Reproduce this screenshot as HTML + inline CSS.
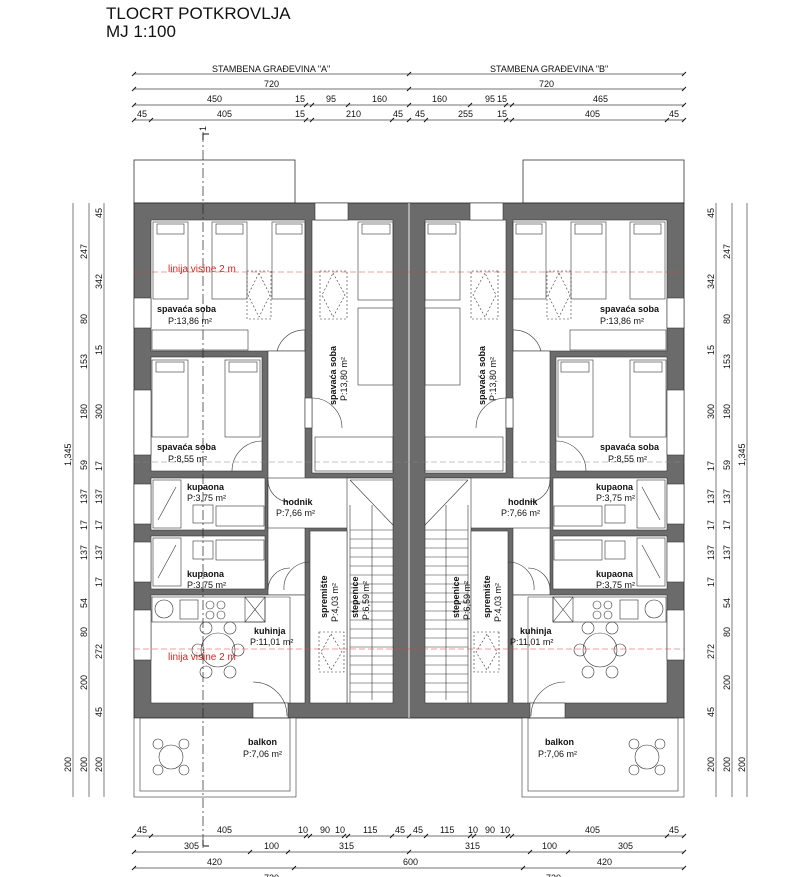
<!DOCTYPE html>
<html><head><meta charset="utf-8"><style>
html,body{margin:0;padding:0;background:#fff}
svg{display:block}
text{font-family:"Liberation Sans",sans-serif;fill:#111}
.d{font-size:9px}
.r{font-size:9px;font-weight:bold}
.a{font-size:9px}
.red{fill:#d22;font-size:10px}
</style></head><body>
<svg width="800" height="877" viewBox="0 0 800 877" xmlns="http://www.w3.org/2000/svg">
<defs>
<g id="unit">
  <rect x="134" y="160" width="161" height="43" fill="#fff" stroke="#333" stroke-width="0.8"/>
  <rect x="134" y="203" width="275" height="515" fill="#6b6b6b" stroke="#222" stroke-width="0.8"/>
  <g fill="#fff" stroke="#333" stroke-width="0.6">
    <rect x="151" y="220" width="154" height="131"/>
    <rect x="312" y="220" width="81" height="253"/>
    <rect x="151" y="357" width="111" height="114"/>
    <rect x="268" y="351" width="37" height="244"/>
    <rect x="268" y="478" width="125" height="50"/>
    <rect x="347" y="478" width="46" height="225"/>
    <rect x="310" y="531" width="37" height="172"/>
    <rect x="151" y="478" width="114" height="52"/>
    <rect x="151" y="536" width="114" height="53"/>
    <rect x="151" y="595" width="154" height="108"/>
    <rect x="253" y="703" width="35" height="15"/>
    <rect x="305" y="398" width="7" height="30"/>
    <rect x="315" y="203" width="33" height="17"/>
  </g>
  <g fill="none" stroke="#333" stroke-width="0.6">
    <rect x="134" y="298" width="17" height="30" fill="#fff"/>
    <rect x="134" y="390" width="17" height="65" fill="#fff"/>
    <rect x="134" y="484" width="17" height="40" fill="#fff"/>
    <rect x="134" y="542" width="17" height="40" fill="#fff"/>
    <rect x="134" y="610" width="17" height="50" fill="#fff"/>
    <rect x="153" y="222" width="35" height="77"/><rect x="157" y="224" width="27" height="10"/>
    <rect x="212" y="222" width="35" height="77"/><rect x="216" y="224" width="27" height="10"/>
    <rect x="272" y="222" width="33" height="77"/><rect x="276" y="224" width="26" height="10"/>
    <rect x="152" y="330" width="96" height="20"/>
    <rect x="358" y="222" width="35" height="78"/><rect x="362" y="224" width="28" height="10"/>
    <rect x="358" y="308" width="35" height="77"/>
    <rect x="315" y="437" width="78" height="34"/>
    <rect x="152" y="360" width="36" height="77"/><rect x="156" y="362" width="28" height="10"/>
    <rect x="225" y="360" width="35" height="77"/><rect x="229" y="362" width="28" height="10"/>
    <rect x="247" y="271" width="24" height="48" stroke-dasharray="2,2"/>
    <path d="M259 273 L270 295 L259 317 L248 295Z" stroke-dasharray="2,2"/>
    <rect x="320" y="271" width="27" height="48" stroke-dasharray="2,2"/>
    <path d="M333 273 L345 295 L333 317 L322 295Z" stroke-dasharray="2,2"/>
    <rect x="319" y="632" width="25" height="40" stroke-dasharray="2,2"/>
    <path d="M331 634 L342 652 L331 670 L321 652Z" stroke-dasharray="2,2"/>
    <rect x="153" y="480" width="28" height="48"/><line x1="158" y1="520" x2="176" y2="487"/>
    <rect x="153" y="538" width="28" height="48"/><line x1="158" y1="578" x2="176" y2="545"/>
    <rect x="216" y="506" width="48" height="20"/><rect x="216" y="540" width="48" height="20"/>
    <rect x="193" y="505" width="20" height="18"/><rect x="193" y="541" width="20" height="18"/>
    <rect x="152" y="597" width="113" height="25"/>
    <circle cx="164" cy="609" r="9"/><rect x="180" y="600" width="18" height="19"/>
    <circle cx="210" cy="605" r="4"/><circle cx="221" cy="605" r="4"/><circle cx="210" cy="615" r="4"/><circle cx="221" cy="615" r="4"/>
    <rect x="245" y="597" width="20" height="25"/><path d="M245 597 L265 622 M265 597 L245 622"/>
    <line x1="265" y1="597" x2="290" y2="597"/><line x1="290" y1="597" x2="290" y2="703"/>
    <circle cx="218" cy="650" r="17"/>
    <circle cx="206" cy="628" r="6"/><circle cx="230" cy="628" r="6"/><circle cx="198" cy="650" r="6"/><circle cx="238" cy="650" r="6"/><circle cx="206" cy="672" r="6"/><circle cx="230" cy="672" r="6"/>
    <path d="M350 480 L393 480 M350 480 L393 525"/>
    <path d="M350 505 L350 703 M372 505 L372 700"/>
    <path d="M350 530H393M350 539H393M350 548H393M350 557H393M350 566H393M350 575H393M350 584H393M350 593H393M350 602H393M350 611H393M350 620H393M350 629H393M350 638H393M350 647H393M350 656H393M350 665H393M350 674H393M350 683H393M350 692H393"/>
    <path d="M305 330 A28 28 0 0 0 277 351"/><line x1="305" y1="330" x2="305" y2="351"/>
    <path d="M312 398 A30 30 0 0 1 342 428"/>
    <path d="M232 471 A30 30 0 0 1 262 441"/>
    <path d="M268 480 A22 22 0 0 0 290 502"/>
    <path d="M268 590 A22 22 0 0 1 290 568"/>
    <path d="M310 562 A26 26 0 0 0 284 590"/>
    <path d="M253 682 A34 34 0 0 1 287 716"/>
    <rect x="134" y="718" width="162" height="79" fill="#fff"/>
    <rect x="140" y="718" width="150" height="73"/>
    <circle cx="171" cy="757" r="12"/>
    <circle cx="158" cy="744" r="5"/><circle cx="184" cy="744" r="5"/><circle cx="158" cy="770" r="5"/><circle cx="184" cy="770" r="5"/>
  </g>
</g>
</defs>

<text x="106" y="19" style="font-size:17px">TLOCRT POTKROVLJA</text>
<text x="106" y="37" style="font-size:17px">MJ 1:100</text>

<use href="#unit"/>
<use href="#unit" transform="translate(818,0) scale(-1,1)"/>
<line x1="409" y1="203" x2="409" y2="718" stroke="#eee" stroke-width="1"/>
<line x1="203" y1="132" x2="203" y2="848" stroke="#222" stroke-width="0.7" stroke-dasharray="10,3,2,3"/>

<line x1="134" y1="272" x2="684" y2="272" stroke="#d44" stroke-width="0.6" stroke-dasharray="6,3"/>
<line x1="134" y1="649" x2="684" y2="649" stroke="#d44" stroke-width="0.6" stroke-dasharray="6,3"/>
<line x1="134" y1="462" x2="684" y2="462" stroke="#888" stroke-width="0.6" stroke-dasharray="6,3"/>
<text class="red" x="168" y="272">linija visine 2 m</text>
<text class="red" x="168" y="660">linija visine 2 m</text>

<text class="r" x="157" y="312">spavaća  soba</text><text class="a" x="168" y="324">P:13,86 m²</text>
<text class="r" x="157" y="450">spavaća  soba</text><text class="a" x="168" y="462">P:8,55 m²</text>
<text class="r" x="187" y="490">kupaona</text><text class="a" x="187" y="501">P:3,75 m²</text>
<text class="r" x="187" y="577">kupaona</text><text class="a" x="187" y="588">P:3,75 m²</text>
<text class="r" x="283" y="505">hodnik</text><text class="a" x="276" y="516">P:7,66 m²</text>
<text class="r" x="254" y="634">kuhinja</text><text class="a" x="250" y="645">P:11,01 m²</text>
<text class="r" x="248" y="745">balkon</text><text class="a" x="243" y="757">P:7,06 m²</text>
<g transform="translate(336,405) rotate(-90)"><text class="r" x="0" y="0">spavaća  soba</text><text class="a" x="4" y="11">P:13,80 m²</text></g>
<g transform="translate(327,618) rotate(-90)"><text class="r" x="0" y="0">spremište</text><text class="a" x="-4" y="11">P:4,03 m²</text></g>
<g transform="translate(358,618) rotate(-90)"><text class="r" x="0" y="0">stepenice</text><text class="a" x="-2" y="11">P:6,59 m²</text></g>
<text class="r" x="600" y="312">spavaća  soba</text><text class="a" x="600" y="324">P:13,86 m²</text>
<text class="r" x="600" y="450">spavaća  soba</text><text class="a" x="608" y="462">P:8,55 m²</text>
<text class="r" x="596" y="490">kupaona</text><text class="a" x="596" y="501">P:3,75 m²</text>
<text class="r" x="596" y="577">kupaona</text><text class="a" x="596" y="588">P:3,75 m²</text>
<text class="r" x="508" y="505">hodnik</text><text class="a" x="501" y="516">P:7,66 m²</text>
<text class="r" x="520" y="634">kuhinja</text><text class="a" x="510" y="645">P:11,01 m²</text>
<text class="r" x="545" y="745">balkon</text><text class="a" x="538" y="757">P:7,06 m²</text>
<g transform="translate(485,405) rotate(-90)"><text class="r" x="0" y="0">spavaća  soba</text><text class="a" x="4" y="11">P:13,80 m²</text></g>
<g transform="translate(490,618) rotate(-90)"><text class="r" x="0" y="0">spremište</text><text class="a" x="-4" y="11">P:4,03 m²</text></g>
<g transform="translate(459,618) rotate(-90)"><text class="r" x="0" y="0">stepenice</text><text class="a" x="-2" y="11">P:6,59 m²</text></g>

<g stroke="#444" stroke-width="0.7">
  <line x1="134" y1="74" x2="684" y2="74"/>
  <line x1="134" y1="89" x2="684" y2="89"/>
  <line x1="134" y1="105" x2="684" y2="105"/>
  <line x1="134" y1="120" x2="684" y2="120"/>
  <line x1="134" y1="836" x2="684" y2="836"/>
  <line x1="134" y1="852" x2="684" y2="852"/>
  <line x1="134" y1="868" x2="684" y2="868"/>
  <line x1="73" y1="203" x2="73" y2="797"/><line x1="89" y1="203" x2="89" y2="797"/><line x1="104" y1="203" x2="104" y2="797"/>
  <line x1="716" y1="203" x2="716" y2="797"/><line x1="732" y1="203" x2="732" y2="797"/><line x1="747" y1="203" x2="747" y2="797"/>
</g>
<g stroke="#111" stroke-width="1">
  <path d="M132 76l4-4M407 76l4-4M682 76l4-4"/>
  <path d="M132 91l4-4M407 91l4-4M682 91l4-4"/>
  <path d="M132 107l4-4M304 107l4-4M310 107l4-4M346 107l4-4M407 107l4-4M468 107l4-4M504 107l4-4M510 107l4-4M682 107l4-4"/>
  <path d="M132 122l4-4M149 122l4-4M304 122l4-4M310 122l4-4M390 122l4-4M407 122l4-4M424 122l4-4M504 122l4-4M510 122l4-4M665 122l4-4M682 122l4-4"/>
  <path d="M132 838l4-4M149 838l4-4M304 838l4-4M308 838l4-4M342 838l4-4M346 838l4-4M390 838l4-4M407 838l4-4M424 838l4-4M468 838l4-4M472 838l4-4M506 838l4-4M510 838l4-4M665 838l4-4M682 838l4-4"/>
  <path d="M132 854l4-4M248 854l4-4M286 854l4-4M407 854l4-4M528 854l4-4M566 854l4-4M682 854l4-4"/>
  <path d="M132 870l4-4M292 870l4-4M521 870l4-4M682 870l4-4"/>
</g>
<g class="d">
  <text class="d" x="212" y="72">STAMBENA GRAĐEVINA "A"</text>
  <text class="d" x="490" y="72">STAMBENA GRAĐEVINA "B"</text>
  <text class="d" x="264" y="87">720</text><text class="d" x="539" y="87">720</text>
  <text class="d" x="207" y="102">450</text><text class="d" x="295" y="102">15</text><text class="d" x="326" y="102">95</text><text class="d" x="372" y="102">160</text>
  <text class="d" x="432" y="102">160</text><text class="d" x="485" y="102">95</text><text class="d" x="497" y="102">15</text><text class="d" x="593" y="102">465</text>
  <text class="d" x="137" y="117">45</text><text class="d" x="217" y="117">405</text><text class="d" x="295" y="117">15</text><text class="d" x="346" y="117">210</text><text class="d" x="393" y="117">45</text>
  <text class="d" x="415" y="117">45</text><text class="d" x="458" y="117">255</text><text class="d" x="497" y="117">15</text><text class="d" x="585" y="117">405</text><text class="d" x="669" y="117">45</text>
  <text class="d" x="137" y="833">45</text><text class="d" x="217" y="833">405</text><text class="d" x="298" y="833">10</text><text class="d" x="320" y="833">90</text><text class="d" x="335" y="833">10</text><text class="d" x="363" y="833">115</text><text class="d" x="395" y="833">45</text>
  <text class="d" x="413" y="833">45</text><text class="d" x="440" y="833">115</text><text class="d" x="468" y="833">10</text><text class="d" x="485" y="833">90</text><text class="d" x="500" y="833">10</text><text class="d" x="585" y="833">405</text><text class="d" x="669" y="833">45</text>
  <text class="d" x="184" y="849">305</text><text class="d" x="264" y="849">100</text><text class="d" x="339" y="849">315</text><text class="d" x="465" y="849">315</text><text class="d" x="542" y="849">100</text><text class="d" x="618" y="849">305</text>
  <text class="d" x="207" y="865">420</text><text class="d" x="403" y="865">600</text><text class="d" x="597" y="865">420</text>
  <text class="d" x="264" y="881">720</text><text class="d" x="546" y="881">720</text>
</g>
<g class="d">
  <g transform="translate(71,466) rotate(-90)"><text class="d">1,345</text></g>
  <g transform="translate(71,772) rotate(-90)"><text class="d">200</text></g>
  <g transform="translate(87,259) rotate(-90)"><text class="d">247</text></g>
  <g transform="translate(87,324) rotate(-90)"><text class="d">80</text></g>
  <g transform="translate(87,369) rotate(-90)"><text class="d">153</text></g>
  <g transform="translate(87,419) rotate(-90)"><text class="d">180</text></g>
  <g transform="translate(87,470) rotate(-90)"><text class="d">59</text></g>
  <g transform="translate(87,504) rotate(-90)"><text class="d">137</text></g>
  <g transform="translate(87,530) rotate(-90)"><text class="d">17</text></g>
  <g transform="translate(87,560) rotate(-90)"><text class="d">137</text></g>
  <g transform="translate(87,608) rotate(-90)"><text class="d">54</text></g>
  <g transform="translate(87,637) rotate(-90)"><text class="d">80</text></g>
  <g transform="translate(87,690) rotate(-90)"><text class="d">200</text></g>
  <g transform="translate(87,772) rotate(-90)"><text class="d">200</text></g>
  <g transform="translate(102,218) rotate(-90)"><text class="d">45</text></g>
  <g transform="translate(102,289) rotate(-90)"><text class="d">342</text></g>
  <g transform="translate(102,355) rotate(-90)"><text class="d">15</text></g>
  <g transform="translate(102,419) rotate(-90)"><text class="d">300</text></g>
  <g transform="translate(102,471) rotate(-90)"><text class="d">17</text></g>
  <g transform="translate(102,504) rotate(-90)"><text class="d">137</text></g>
  <g transform="translate(102,530) rotate(-90)"><text class="d">17</text></g>
  <g transform="translate(102,560) rotate(-90)"><text class="d">137</text></g>
  <g transform="translate(102,587) rotate(-90)"><text class="d">17</text></g>
  <g transform="translate(102,659) rotate(-90)"><text class="d">272</text></g>
  <g transform="translate(102,717) rotate(-90)"><text class="d">45</text></g>
  <g transform="translate(102,772) rotate(-90)"><text class="d">200</text></g>
</g>
<g class="d">
  <g transform="translate(745,466) rotate(-90)"><text class="d">1,345</text></g>
  <g transform="translate(745,772) rotate(-90)"><text class="d">200</text></g>
  <g transform="translate(730,259) rotate(-90)"><text class="d">247</text></g>
  <g transform="translate(730,324) rotate(-90)"><text class="d">80</text></g>
  <g transform="translate(730,369) rotate(-90)"><text class="d">153</text></g>
  <g transform="translate(730,419) rotate(-90)"><text class="d">180</text></g>
  <g transform="translate(730,470) rotate(-90)"><text class="d">59</text></g>
  <g transform="translate(730,504) rotate(-90)"><text class="d">137</text></g>
  <g transform="translate(730,530) rotate(-90)"><text class="d">17</text></g>
  <g transform="translate(730,560) rotate(-90)"><text class="d">137</text></g>
  <g transform="translate(730,608) rotate(-90)"><text class="d">54</text></g>
  <g transform="translate(730,637) rotate(-90)"><text class="d">80</text></g>
  <g transform="translate(730,690) rotate(-90)"><text class="d">200</text></g>
  <g transform="translate(730,772) rotate(-90)"><text class="d">200</text></g>
  <g transform="translate(714,218) rotate(-90)"><text class="d">45</text></g>
  <g transform="translate(714,289) rotate(-90)"><text class="d">342</text></g>
  <g transform="translate(714,355) rotate(-90)"><text class="d">15</text></g>
  <g transform="translate(714,419) rotate(-90)"><text class="d">300</text></g>
  <g transform="translate(714,471) rotate(-90)"><text class="d">17</text></g>
  <g transform="translate(714,504) rotate(-90)"><text class="d">137</text></g>
  <g transform="translate(714,530) rotate(-90)"><text class="d">17</text></g>
  <g transform="translate(714,560) rotate(-90)"><text class="d">137</text></g>
  <g transform="translate(714,587) rotate(-90)"><text class="d">17</text></g>
  <g transform="translate(714,659) rotate(-90)"><text class="d">272</text></g>
  <g transform="translate(714,717) rotate(-90)"><text class="d">45</text></g>
  <g transform="translate(714,772) rotate(-90)"><text class="d">200</text></g>
</g>
<path d="M203 140 V134 H209" fill="none" stroke="#111" stroke-width="1"/>
<text class="d" x="200" y="131" transform="rotate(-90 203 128)">1</text>
<path d="M203 840 V846 H209" fill="none" stroke="#111" stroke-width="1"/>
</svg>
</body></html>
